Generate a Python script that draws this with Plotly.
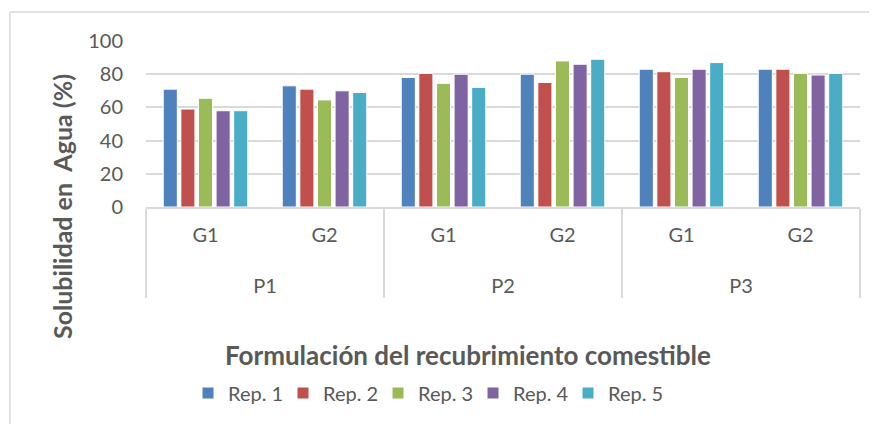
import plotly.graph_objects as go

# ---- data ----
formulacion = ["P1", "P1", "P2", "P2", "P3", "P3"]
grupo = ["G1", "G2", "G1", "G2", "G1", "G2"]
series_names = ["Rep. 1", "Rep. 2", "Rep. 3", "Rep. 4", "Rep. 5"]
rep1 = [71, 73, 78, 80, 83, 83]
rep2 = [59, 71, 80.5, 75, 81.5, 83]
rep3 = [65.5, 64.5, 74.5, 88, 78, 80.5]
rep4 = [58, 70, 80, 86, 83, 79.5]
rep5 = [58, 69, 72, 89, 87, 80.5]
y_ticks = [0, 20, 40, 60, 80, 100]

colors = ["#4F81BD", "#C0504D", "#9BBB59", "#8064A2", "#4BACC6"]
FONT = "Lato"
TXT = "#595959"
GRID = "#D9D9D9"

OFF = 8  # page body offset
W, H = 877 - OFF, 424 - OFF
L, R, T, B = 146 - OFF, 860 - OFF, 41 - OFF, 207 - OFF  # plot area (figure px)

def px_x(p):
    return (p - OFF - L) / (R - L)

def px_y(p):
    return (B - (p - OFF)) / (B - T)

# labels drawn at 20px inside a 23px axis font, with an empty line under the inner level
def lbl(s):
    return "<span style='font-size:20px'>" + s + "</span>"

grupo_lbl = [lbl(g) + "<br> " for g in grupo]
formulacion_lbl = [lbl(p) for p in formulacion]

fig = go.Figure()
for name, vals, c in zip(series_names, [rep1, rep2, rep3, rep4, rep5], colors):
    fig.add_trace(go.Bar(
        x=[formulacion_lbl, grupo_lbl], y=vals, name=name,
        marker=dict(color=c, line=dict(color="white", width=1)),
    ))

fig.update_layout(
    width=W, height=H,
    margin=dict(l=L, r=W - R, t=T, b=H - B, pad=0, autoexpand=False),
    paper_bgcolor="white", plot_bgcolor="white",
    barmode="group", bargap=0.26, bargroupgap=0.2,
    font=dict(family=FONT, color=TXT, size=20),
    showlegend=True,
    legend=dict(
        orientation="h", x=px_x(188), xanchor="left",
        y=px_y(393), yanchor="middle",
        font=dict(size=20, color=TXT, family=FONT),
        entrywidth=50, entrywidthmode="pixels",
        itemwidth=30, traceorder="normal",
        bgcolor="rgba(0,0,0,0)",
    ),
    xaxis=dict(
        type="multicategory",
        showgrid=False, showline=True, linecolor=GRID, linewidth=1.5,
        tickfont=dict(size=23, color=TXT, family=FONT),
        showdividers=True, dividercolor=GRID, dividerwidth=1.5,
        ticks="", ticklabelstandoff=6,
    ),
    yaxis=dict(
        range=[0, 100], tickvals=y_ticks, ticktext=[str(v) for v in y_ticks],
        showgrid=True, gridcolor=GRID, gridwidth=1.5,
        zeroline=False, showline=False, ticks="",
        tickfont=dict(size=20, color=TXT, family=FONT),
        ticklabelstandoff=22,
    ),
    annotations=[
        dict(text="<b>Formulación del recubrimiento comestible</b>",
             xref="paper", yref="paper", x=px_x(468), y=px_y(355),
             xanchor="center", yanchor="middle", showarrow=False,
             font=dict(size=26, color=TXT, family=FONT)),
        dict(text="<b>Solubilidad en  Agua (%)</b>",
             xref="paper", yref="paper", x=px_x(62), y=px_y(207),
             xanchor="center", yanchor="middle", showarrow=False, textangle=-90,
             font=dict(size=25, color=TXT, family=FONT)),
    ],
    shapes=[
        dict(type="line", xref="paper", yref="paper",
             x0=px_x(10), x1=px_x(877), y0=px_y(12), y1=px_y(12),
             line=dict(color=GRID, width=1.5)),
        dict(type="line", xref="paper", yref="paper",
             x0=px_x(10), x1=px_x(10), y0=px_y(12), y1=px_y(424),
             line=dict(color=GRID, width=1.5)),
    ],
)

fig.write_html("out.html")
